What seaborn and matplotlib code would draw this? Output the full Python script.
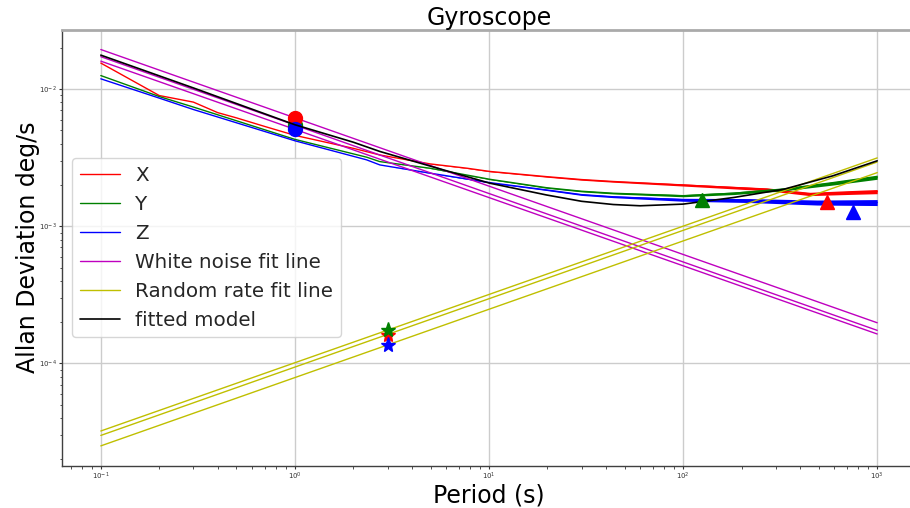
import matplotlib
matplotlib.use("Agg")
import numpy as np
import matplotlib.pyplot as plt
import seaborn as sns

# ---------------- Allan deviation of the three gyro axes (deg/s) ----------------
tau_x = [0.1, 0.2, 0.3, 0.4, 0.5, 0.7, 1.0, 2.0, 2.74, 3.5, 4.96, 7.7, 10.1,
         19.8, 30, 43.7, 100, 270, 450, 700, 1000]
adev_x = [0.01549, 0.00898, 0.00804, 0.00674, 0.00617, 0.00534, 0.0046, 0.0037,
          0.00331, 0.00311, 0.00285, 0.00265, 0.00251, 0.00230, 0.00219,
          0.00212, 0.00200, 0.00186, 0.00172, 0.00176, 0.00179]
# relative half-width of the estimator scatter at long averaging times
spread_x = [0, 0, 0, 0, 0, 0, 0, 0, 0, 0, 0.003, 0.005, 0.006, 0.009, 0.011,
            0.012, 0.018, 0.024, 0.028, 0.032, 0.035]

tau_y = [0.1, 0.2, 0.3, 1.0, 2.34, 2.74, 4.96, 10.1, 19.8, 30, 43.7, 100, 182,
         330, 590, 1000]
adev_y = [0.01256, 0.00883, 0.0074, 0.0043, 0.00319, 0.00296, 0.00265, 0.00220,
          0.00191, 0.00180, 0.00174, 0.00167, 0.00174, 0.00186, 0.00206, 0.00228]
spread_y = [0, 0, 0, 0, 0, 0, 0.003, 0.006, 0.009, 0.011, 0.012, 0.018, 0.022,
            0.026, 0.031, 0.035]

tau_z = [0.1, 0.2, 0.3, 1.0, 2.34, 2.74, 4.96, 10.1, 19.8, 30, 43.7, 100, 220,
         490, 1000]
adev_z = [0.01189, 0.0086, 0.0071, 0.0042, 0.00305, 0.00280, 0.00244, 0.00208,
          0.00184, 0.00170, 0.00164, 0.00156, 0.00154, 0.00149, 0.00149]
spread_z = [0, 0, 0, 0, 0, 0, 0.003, 0.006, 0.01, 0.013, 0.015, 0.025, 0.033,
            0.042, 0.05]

# fitted noise model (one curve)
tau_fit = [0.1, 0.3, 1.0, 2.0, 2.74, 4.96, 10.1, 19.8, 30, 43.7, 60, 100, 182,
           330, 590, 1000]
adev_fit = [0.0177, 0.0102, 0.0055, 0.0041, 0.00351, 0.00275, 0.00206, 0.00169,
            0.00152, 0.00144, 0.00141, 0.00145, 0.00162, 0.00186, 0.00233,
            0.00300]

# straight fit lines, given by their end points at tau = 0.1 s and 1000 s
tau_ends = [0.1, 1000]
white_x = [0.01945, 1.977e-4]
white_y = [0.01725, 1.74e-4]
white_z = [0.0160, 1.637e-4]
rrate_x = [2.98e-5, 2.94e-3]
rrate_y = [3.21e-5, 3.15e-3]
rrate_z = [2.50e-5, 2.46e-3]

# read-off points: angle random walk N (tau = 1 s), rate random walk K (tau = 3 s),
# bias instability (tau, value)
n_tau = 1.0
n_val = {"X": 0.0062, "Y": 0.0055, "Z": 0.0051}
k_tau = 3.0
k_val = {"X": 1.62e-4, "Y": 1.75e-4, "Z": 1.36e-4}
b_tau = {"X": 550, "Y": 125, "Z": 750}
b_val = {"X": 0.00149, "Y": 0.00156, "Z": 0.00127}

axis_colors = {"X": "r", "Y": "g", "Z": "b"}

# ---------------- figure ----------------
sns.set_style("whitegrid")
plt.rcParams["font.family"] = ["DejaVu Sans"]

fig = plt.figure(figsize=(9.1, 5.08), dpi=100)
ax = fig.add_axes([62 / 910, 42.3 / 508, 854 / 910, 436 / 508])
ax.set_xscale("log")
ax.set_yscale("log")

series = {
    "X": (tau_x, adev_x, spread_x),
    "Y": (tau_y, adev_y, spread_y),
    "Z": (tau_z, adev_z, spread_z),
}
white = {"X": white_x, "Y": white_y, "Z": white_z}
rrate = {"X": rrate_x, "Y": rrate_y, "Z": rrate_z}

handles = {}
for name, (tau, dev, spr) in series.items():
    c = axis_colors[name]
    tau_a = np.asarray(tau, float)
    dev_a = np.asarray(dev, float)
    spr_a = np.asarray(spr, float)
    ax.fill_between(tau_a, dev_a * (1 - spr_a), dev_a * (1 + spr_a),
                    color=c, lw=0, zorder=2)
    sns.lineplot(x=tau_a, y=dev_a, color=c, lw=1.0, ax=ax,
                 estimator=None, sort=False, zorder=2)
    handles[name] = ax.lines[-1]

for i, name in enumerate(["X", "Y", "Z"]):
    sns.lineplot(x=tau_ends, y=white[name], color="m", lw=1.0, ax=ax,
                 estimator=None, sort=False, zorder=3)
    if i == 0:
        handles["White noise fit line"] = ax.lines[-1]
for i, name in enumerate(["X", "Y", "Z"]):
    sns.lineplot(x=tau_ends, y=rrate[name], color="y", lw=1.0, ax=ax,
                 estimator=None, sort=False, zorder=3)
    if i == 0:
        handles["Random rate fit line"] = ax.lines[-1]

for name in ["Y", "X", "Z"]:
    c = axis_colors[name]
    ax.plot([n_tau], [n_val[name]], "o", color=c, ms=10, zorder=3)
for name in ["X", "Y", "Z"]:
    c = axis_colors[name]
    ax.plot([k_tau], [k_val[name]], "*", color=c, ms=11, zorder=4)
    ax.plot([b_tau[name]], [b_val[name]], "^", color=c, ms=10, zorder=5)

sns.lineplot(x=tau_fit, y=adev_fit, color="k", lw=1.2, ax=ax,
             estimator=None, sort=False, zorder=4)
handles["fitted model"] = ax.lines[-1]

# ---------------- decoration ----------------
ax.set_title("Gyroscope", fontsize=17, pad=2.5, color="black")
ax.set_xlabel("Period (s)", fontsize=17, color="black", labelpad=1)
ax.set_ylabel("Allan Deviation deg/s", fontsize=17, color="black", labelpad=-1)

ax.tick_params(which="both", bottom=True, left=True, direction="out",
               labelsize=5, colors="#333333", pad=1.2)
ax.tick_params(which="major", length=2.5, width=0.8)
ax.tick_params(which="minor", length=1.8, width=0.6)
ax.grid(True, which="major", color="#cccccc", lw=1)
ax.grid(False, which="minor")

ax.spines["top"].set_color("#aaaaaa")
ax.spines["top"].set_linewidth(2)
for s in ("left", "bottom"):
    ax.spines[s].set_color("#404040")
    ax.spines[s].set_linewidth(1)

labels = ["X", "Y", "Z", "White noise fit line", "Random rate fit line", "fitted model"]
ax.legend([handles[k] for k in labels], labels, loc="center left", fontsize=14.3,
          frameon=True, framealpha=0.8, edgecolor="0.8", fancybox=True)

fig.savefig("out.png", dpi=100)
